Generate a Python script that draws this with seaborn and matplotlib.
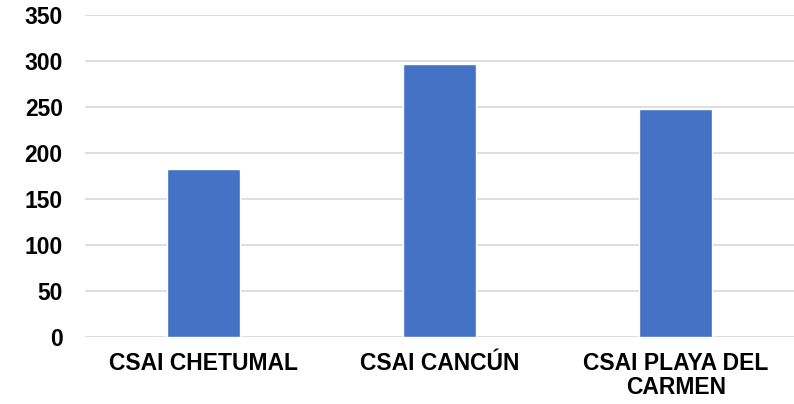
import seaborn as sns
import matplotlib.pyplot as plt
import pandas as pd

# values
centros = ["CSAI CHETUMAL", "CSAI CANCÚN", "CSAI PLAYA DEL\nCARMEN"]
valores = [183, 297, 248]
y_ticks = [0, 50, 100, 150, 200, 250, 300, 350]

df = pd.DataFrame({"centro": centros, "valor": valores})

sns.set_style("white")
plt.rcParams['font.family'] = ['Liberation Sans', 'DejaVu Sans']

fig = plt.figure(figsize=(7.94, 4.04), dpi=100)
ax = fig.add_axes([85 / 794, 1 - 337 / 404, 1 - 85 / 794, (337 - 15) / 404])

sns.barplot(x="centro", y="valor", data=df, color="#4472C4", width=0.31,
            saturation=1, ax=ax, zorder=3)

ax.set_ylim(0, 350)
ax.set_yticks(y_ticks)
ax.yaxis.grid(True, color="#d9d9d9", linewidth=1.2, zorder=0)
ax.set_axisbelow(True)
for s in ax.spines.values():
    s.set_visible(False)
ax.tick_params(axis="both", length=0, labelsize=16.5, labelcolor="black")
ax.tick_params(axis="x", pad=11)
ax.tick_params(axis="y", pad=16)
for lbl in ax.get_xticklabels() + ax.get_yticklabels():
    lbl.set_fontweight("bold")
for lbl in ax.get_xticklabels():
    lbl.set_linespacing(1.05)
ax.set_xlabel("")
ax.set_ylabel("")

fig.savefig("out.png", dpi=100)
